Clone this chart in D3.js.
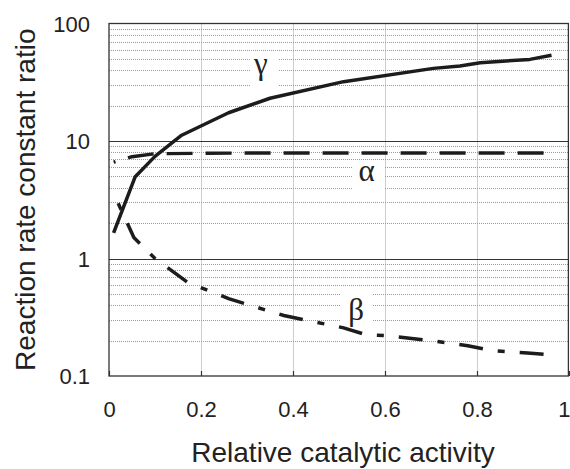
<!DOCTYPE html>
<html>
<head>
<meta charset="utf-8">
<script src="https://cdn.jsdelivr.net/npm/d3@7"></script>
<style>
  html, body { margin: 0; padding: 0; background: #fff; }
  svg { display: block; }
  .tick-label { font-family: "Liberation Sans", Arial, Helvetica, sans-serif; font-size: 22px; fill: #222; }
  .axis-title { font-family: "Liberation Sans", Arial, Helvetica, sans-serif; font-size: 28px; fill: #222; }
  .greek { font-family: "Liberation Serif", "Times New Roman", serif; font-size: 31px; fill: #222; }
</style>
</head>
<body>
<script>
// Axis ticks
const xTickValues = [0, 0.2, 0.4, 0.6, 0.8, 1];
const xTickLabels = ["0", "0.2", "0.4", "0.6", "0.8", "1"];
const yTickValues = [0.1, 1, 10, 100];
const yTickLabels = ["0.1", "1", "10", "100"];

// Series: relative catalytic activity vs. rate constant ratio
const gammaX = [0.01, 0.057, 0.1, 0.158, 0.26, 0.35, 0.51, 0.705, 0.763, 0.807, 0.915, 0.962];
const gammaY = [1.65, 4.97, 7.4, 11.2, 17.4, 23.1, 32, 41.5, 43.5, 46.4, 49.5, 53.6];

const alphaX = [0.01, 0.05, 0.1, 0.3, 0.5, 0.7, 0.96];
const alphaY = [6.6, 7.35, 7.8, 7.9, 7.9, 7.9, 7.9];

const betaX = [0.02, 0.054, 0.1, 0.17, 0.26, 0.38, 0.51, 0.56, 0.6, 0.7, 0.78, 0.83, 0.91, 0.96];
const betaY = [2.95, 1.51, 1.0, 0.63, 0.455, 0.327, 0.257, 0.224, 0.221, 0.2, 0.181, 0.165, 0.157, 0.151];

// Curve labels
const labelText = ["\u03B3", "\u03B1", "\u03B2"];
const labelX = [0.33, 0.56, 0.537];
const labelY = [37, 4.6, 0.3];

const W = 570, H = 469;
const margin = { left: 109, right: 1, top: 23.5, bottom: 93 };

const svg = d3.select("body").append("svg").attr("width", W).attr("height", H);

const x = d3.scaleLinear().domain([0, 1]).range([margin.left, W - margin.right]);
const y = d3.scaleLog().domain([0.1, 100]).range([H - margin.bottom, margin.top]);

const [x0, x1] = x.range();
const [y0, y1] = y.range();

// Minor horizontal grid (2..9 in every decade)
const minor = [];
[0.1, 1, 10].forEach(d => { for (let k = 2; k <= 9; k++) minor.push(+(d * k).toPrecision(3)); });

const grid = svg.append("g");
grid.selectAll("line.hminor").data(minor).join("line")
  .attr("x1", x0).attr("x2", x1)
  .attr("y1", d => Math.round(y(d)) + 0.5).attr("y2", d => Math.round(y(d)) + 0.5)
  .attr("stroke", "#9a9a9a").attr("stroke-width", 1).attr("stroke-dasharray", "1,1");

grid.selectAll("line.v").data(xTickValues.slice(1, -1)).join("line")
  .attr("x1", d => Math.round(x(d)) + 0.5).attr("x2", d => Math.round(x(d)) + 0.5)
  .attr("y1", y1).attr("y2", y0)
  .attr("stroke", "#9a9a9a").attr("stroke-width", 1).attr("stroke-dasharray", "1,1");

// Major decade lines
grid.selectAll("line.hmajor").data([1, 10]).join("line")
  .attr("x1", x0).attr("x2", x1)
  .attr("y1", d => Math.round(y(d)) + 0.5).attr("y2", d => Math.round(y(d)) + 0.5)
  .attr("stroke", "#333").attr("stroke-width", 1.2);

// White backing behind the curve labels
const boxes = [[250, 55, 28, 45], [352, 162, 33, 36], [340, 289, 33, 36]];
svg.append("g").selectAll("rect").data(boxes).join("rect")
  .attr("x", d => d[0]).attr("y", d => d[1]).attr("width", d => d[2]).attr("height", d => d[3])
  .attr("fill", "#fff");

// Bottom axis ticks (inside) and labels
const xAxis = d3.axisBottom(x).tickValues(xTickValues).tickFormat((d, i) => xTickLabels[i]).tickSizeInner(-5).tickSizeOuter(0).tickPadding(30);
const gx = svg.append("g").attr("transform", `translate(0,${y0})`).call(xAxis);
gx.select(".domain").remove();
gx.selectAll(".tick line").attr("stroke", "#333").attr("stroke-width", 1.2);
gx.selectAll(".tick text").attr("class", "tick-label").attr("font-size", null).attr("font-family", null).attr("fill", null)
  .attr("dy", null).attr("y", 41);
// the last label sits at the right edge of the page
gx.selectAll(".tick text").filter(d => d === 1).attr("text-anchor", "end").attr("x", 1);

// Left axis labels
const yAxis = d3.axisLeft(y).tickValues(yTickValues).tickFormat((d, i) => yTickLabels[i]).tickSizeInner(0).tickSizeOuter(0).tickPadding(19);
const gy = svg.append("g").attr("transform", `translate(${x0},0)`).call(yAxis);
gy.select(".domain").remove();
gy.selectAll(".tick text").attr("class", "tick-label").attr("font-size", null).attr("font-family", null).attr("fill", null)
  .attr("dy", "0.36em");

// Plot frame
svg.append("rect").attr("x", x0).attr("y", y1).attr("width", x1 - x0 - 0.6).attr("height", y0 - y1)
  .attr("fill", "none").attr("stroke", "#333").attr("stroke-width", 1.3);

// Series lines
const line = d3.line().x(d => x(d[0])).y(d => y(d[1])).curve(d3.curveLinear);
const ink = "#1c1c1c";

svg.append("path").datum(d3.zip(gammaX, gammaY)).attr("d", line)
  .attr("fill", "none").attr("stroke", ink).attr("stroke-width", 3.5).attr("stroke-linejoin", "round");

svg.append("path").datum(d3.zip(alphaX, alphaY)).attr("d", line)
  .attr("fill", "none").attr("stroke", ink).attr("stroke-width", 3.4)
  .attr("stroke-dasharray", "26,13").attr("stroke-dashoffset", 24);

svg.append("path").datum(d3.zip(betaX, betaY)).attr("d", line)
  .attr("fill", "none").attr("stroke", ink).attr("stroke-width", 3.5)
  .attr("stroke-dasharray", "7,15,24,15");

// Curve labels
svg.append("g").selectAll("text").data(labelText).join("text")
  .attr("class", "greek")
  .attr("x", (d, i) => x(labelX[i])).attr("y", (d, i) => y(labelY[i]))
  .attr("text-anchor", "middle")
  .text(d => d);

// Axis titles
svg.append("text").attr("class", "axis-title")
  .attr("x", 343).attr("y", 462).attr("text-anchor", "middle")
  .text("Relative catalytic activity");

svg.append("text").attr("class", "axis-title")
  .attr("transform", `translate(35,${(y0 + y1) / 2}) rotate(-90)`)
  .attr("text-anchor", "middle")
  .text("Reaction rate constant ratio");
</script>
</body>
</html>
